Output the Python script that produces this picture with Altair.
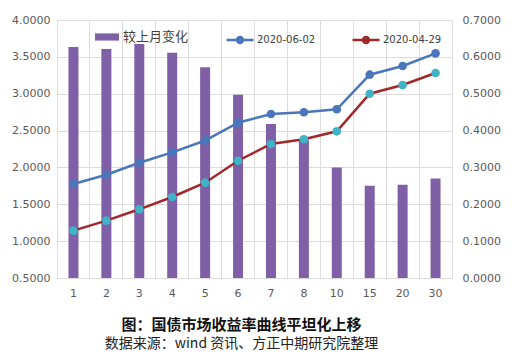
import altair as alt
import pandas as pd

terms = ["1", "2", "3", "4", "5", "6", "7", "8", "10", "15", "20", "30"]
change = [0.627, 0.621, 0.635, 0.611, 0.572, 0.497, 0.418, 0.376, 0.300, 0.250, 0.253, 0.270]
y_0602 = [1.775, 1.901, 2.064, 2.205, 2.365, 2.607, 2.725, 2.748, 2.789, 3.258, 3.376, 3.548]
y_0429 = [1.142, 1.278, 1.432, 1.599, 1.793, 2.091, 2.318, 2.382, 2.490, 3.000, 3.118, 3.281]

bar_name = "较上月变化"
line_names = ["2020-06-02", "2020-04-29"]

bar_df = pd.DataFrame({"term": terms, "change": change, "series": bar_name})
line_df = pd.concat([
    pd.DataFrame({"term": terms, "yield": y_0602, "series": line_names[0]}),
    pd.DataFrame({"term": terms, "yield": y_0429, "series": line_names[1]}),
])

PURPLE = "#7f5fa6"
BLUE = "#4a76bb"
RED = "#a0282a"
TEAL = "#3fb3c8"
GRID = "#dcdcdc"
LBL = "#595959"
FONT = "DejaVu Sans"

x_labels = alt.X("term:N", sort=terms, title=None,
                 scale=alt.Scale(paddingInner=0, paddingOuter=0),
                 axis=alt.Axis(orient="bottom", labelAngle=0, labelColor=LBL, labelFontSize=11,
                               labelFont=FONT, ticks=False, domain=False, grid=False,
                               labelPadding=9))
x_grid = alt.X("term:N", sort=terms, title=None,
               scale=alt.Scale(paddingInner=0, paddingOuter=0),
               axis=alt.Axis(orient="bottom", labels=False, ticks=False, domain=False, grid=True,
                             gridColor=GRID, bandPosition=0))

y_left = alt.Y("yield:Q", title=None,
               scale=alt.Scale(domain=[0.5, 4.0], nice=False, zero=False),
               axis=alt.Axis(orient="left", values=[0.5, 1.0, 1.5, 2.0, 2.5, 3.0, 3.5, 4.0],
                             format=".4f", grid=True, gridColor=GRID, domain=False, ticks=False,
                             labelOverlap=False, labelFlush=False,
                             labelColor=LBL, labelFontSize=11, labelFont=FONT, labelPadding=7))

line_legend = alt.Legend(title=None, orient="none", legendX=168, legendY=5,
                         direction="horizontal",
                         symbolType="M-1,0H1M-0.22,0A0.22,0.22 0 1,1 0.22,0A0.22,0.22 0 1,1 -0.22,0Z",
                         symbolSize=729, symbolStrokeWidth=2.5, symbolOpacity=1,
                         labelFontSize=10, labelColor="#404040", labelFont=FONT,
                         labelOffset=2, columnPadding=31)

bars = alt.Chart(bar_df).mark_bar(size=10).encode(
    x=x_grid,
    y=alt.Y("change:Q", title=None,
            scale=alt.Scale(domain=[0, 0.7], nice=False, zero=True),
            axis=alt.Axis(orient="right", values=[0, 0.1, 0.2, 0.3, 0.4, 0.5, 0.6, 0.7],
                          format=".4f", grid=False, domain=False, ticks=False,
                          labelOverlap=False, labelFlush=False,
                          labelColor=LBL, labelFontSize=11, labelFont=FONT, labelPadding=10)),
    color=alt.Color("series:N", scale=alt.Scale(domain=[bar_name], range=[PURPLE]),
                    legend=alt.Legend(title=None, orient="none", legendX=38, legendY=5,
                                      symbolType="M-1,-0.3H1V0.3H-1Z", symbolSize=576,
                                      symbolStrokeWidth=0, labelFontSize=13, labelColor="#404040",
                                      labelFont="Noto Sans CJK SC", labelOffset=4)),
)

lines = alt.Chart(line_df).mark_line(strokeWidth=2.5).encode(
    x=x_labels,
    y=y_left,
    stroke=alt.Stroke("series:N", scale=alt.Scale(domain=line_names, range=[BLUE, RED]),
                      legend=line_legend),
    detail="series:N",
)

points = alt.Chart(line_df).mark_point(filled=True, size=75, opacity=1).encode(
    x=x_labels,
    y=y_left,
    fill=alt.Fill("series:N", scale=alt.Scale(domain=line_names, range=[BLUE, TEAL]),
                  legend=line_legend),
)

line_layer = alt.layer(lines, points)

chart = alt.layer(bars, line_layer).resolve_scale(
    y="independent"
).resolve_axis(
    x="independent"
).properties(
    width=395, height=258,
    padding={"left": 57, "top": 20, "right": 62, "bottom": 77},
    autosize=alt.AutoSizeParams(type="none"),
    title=alt.TitleParams(
        text="图：国债市场收益率曲线平坦化上移",
        subtitle="数据来源：wind 资讯、方正中期研究院整理",
        orient="bottom", anchor="middle", dx=-13, offset=20,
        font="Noto Sans CJK SC", fontSize=15, fontWeight="bold", color="#111111",
        subtitleFont="Noto Sans CJK SC", subtitleFontSize=14, subtitleColor="#222222",
        subtitlePadding=4,
    ),
).configure_view(
    fill="#f5f5f5", stroke=GRID, strokeWidth=1
).configure(background="white")

chart.save("out.html", embed_options={"renderer": "svg", "actions": False})
